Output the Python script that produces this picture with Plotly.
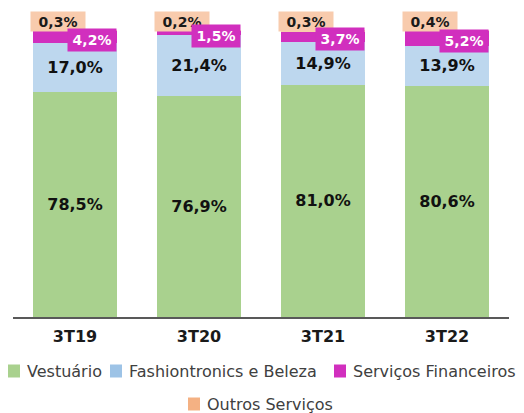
import plotly.graph_objects as go

# ---- data ----
categories = ["3T19", "3T20", "3T21", "3T22"]
series_names = ["Vestuário", "Fashiontronics e Beleza", "Serviços Financeiros", "Outros Serviços"]
vestuario = [78.5, 76.9, 81.0, 80.6]
fashiontronics = [17.0, 21.4, 14.9, 13.9]
financeiros = [4.2, 1.5, 3.7, 5.2]
outros = [0.3, 0.2, 0.3, 0.4]

# ---- style ----
W, H = 524, 413
L, R, T, B = 13, 15, 30, 96
PW, PH = W - L - R, H - T - B
bar_colors = ["#A9D18E", "#BDD7EE", "#D12FBE", "#F8CBAD"]
legend_colors = ["#A9D18E", "#9DC3E6", "#D12FBE", "#F4B183"]
BARFRAC = 0.67
FONT = "DejaVu Sans"


def fmt(v):
    return f"{v:.1f}%".replace(".", ",")


def px2paper(px, py):
    return (px - L) / PW, (H - B - py) / PH


fig = go.Figure()
series = [vestuario, fashiontronics, financeiros, outros]
for i, (name, vals) in enumerate(zip(series_names, series)):
    show_text = i < 2
    fig.add_trace(go.Bar(
        x=categories, y=vals, name=name,
        marker=dict(color=bar_colors[i], line=dict(width=0)),
        text=[fmt(v) for v in vals] if show_text else None,
        textposition="inside" if show_text else "none",
        insidetextanchor="middle",
        textfont=dict(family=FONT, size=16, color="#111111", weight="bold"),
        showlegend=False,
        hoverinfo="skip",
    ))

annotations = []
half_bar_px = BARFRAC * PW / len(categories) / 2
# Outros Serviços labels (above bar, left)
for c, v in zip(categories, outros):
    annotations.append(dict(
        x=c, xref="x", y=1, yref="paper",
        xanchor="center", yanchor="bottom", xshift=-17, yshift=-2,
        width=54, height=19,
        text=fmt(v), showarrow=False, bgcolor=bar_colors[3], borderpad=0,
        font=dict(family=FONT, size=14, color="#1a1a1a", weight="bold"),
    ))
# Serviços Financeiros labels (right aligned to bar edge)
for c, v, a, b in zip(categories, financeiros, vestuario, fashiontronics):
    annotations.append(dict(
        x=c, xref="x", y=a + b + v / 2, yref="y",
        xanchor="right", yanchor="middle", xshift=half_bar_px, yshift=-3,
        width=48, height=22,
        text=fmt(v), showarrow=False, bgcolor=bar_colors[2], borderpad=0,
        font=dict(family=FONT, size=14, color="#FFFFFF", weight="bold"),
    ))

# manual legend
legend_items = [  # swatch left px, row center y px
    (8, 371), (110, 371), (334, 371), (188, 404),
]
shapes = []
for name, col, (sx, sy) in zip(series_names, legend_colors, legend_items):
    x0, y0 = px2paper(sx, sy + 6.5)
    x1, y1 = px2paper(sx + 12, sy - 6.5)
    shapes.append(dict(type="rect", xref="paper", yref="paper", x0=x0, x1=x1, y0=y0, y1=y1,
                       fillcolor=col, line=dict(width=0)))
    tx, ty = px2paper(sx + 17, sy)
    annotations.append(dict(
        x=tx, y=ty, xref="paper", yref="paper", xanchor="left", yanchor="middle",
        text=name, showarrow=False,
        font=dict(family=FONT, size=16, color="#404040"),
    ))

fig.update_layout(
    width=W, height=H,
    margin=dict(l=L, r=R, t=T, b=B),
    barmode="stack", bargap=1 - BARFRAC,
    plot_bgcolor="white", paper_bgcolor="white",
    xaxis=dict(showline=True, linecolor="#595959", linewidth=1.5, ticks="",
               tickfont=dict(family=FONT, size=16, color="#1a1a1a", weight="bold"),
               ticklabelstandoff=4,
               showgrid=False, zeroline=False),
    yaxis=dict(range=[0, 100], visible=False, showgrid=False),
    annotations=annotations, shapes=shapes,
    showlegend=False,
)

fig.write_html("out.html", config={"displayModeBar": False},
               post_script="document.body.style.margin='0';")
